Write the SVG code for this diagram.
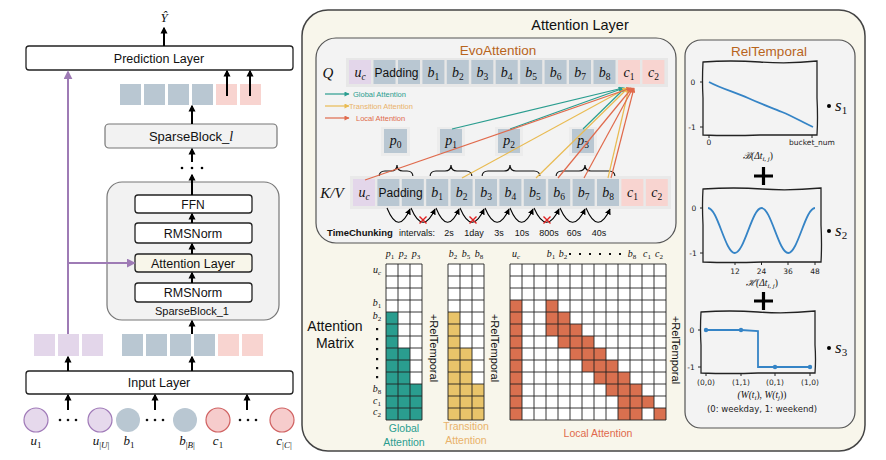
<svg xmlns="http://www.w3.org/2000/svg" width="886" height="460" viewBox="0 0 886 460">
<defs>
<style>
.s{font-family:"Liberation Sans",Arial,sans-serif;fill:#111}
.d{font-family:"DejaVu Sans",sans-serif;fill:#222}
.m{font-family:"Liberation Serif","DejaVu Serif",serif;font-style:italic;fill:#111}
.m tspan{font-style:normal}
.m tspan.it{font-style:italic}
.box{fill:#fff;stroke:#222;stroke-width:1.3}
.blk{fill:#f2f2f2;stroke:#777;stroke-width:1.2}
.pu{fill:#e3d6ea}
.bl{fill:#b9c7d2}
.pk{fill:#f8d4d0}
.arr{stroke:#000;stroke-width:2;fill:none;marker-end:url(#ah)}
.tl{stroke:#2a9d8f;stroke-width:1.2;marker-end:url(#at)}
.yl{stroke:#e9bb52;stroke-width:1.2;marker-end:url(#ay)}
.ol{stroke:#e06a4c;stroke-width:1.2;marker-end:url(#ao)}
.arc{stroke:#000;stroke-width:1.1;fill:none;marker-end:url(#aa)}
.grid{stroke:#222;stroke-width:0.9;fill:none}
.fr{fill:#f3f3f3;stroke:#222;stroke-width:1.3}
.cur{fill:none;stroke:#3584c6;stroke-width:1.8}
</style>
<marker id="ah" viewBox="0 0 10 10" refX="8" refY="5" markerWidth="7" markerHeight="8" markerUnits="userSpaceOnUse" orient="auto"><path d="M0,0L10,5L0,10z" fill="#000"/></marker>
<marker id="ap" viewBox="0 0 10 10" refX="8" refY="5" markerWidth="9" markerHeight="9" markerUnits="userSpaceOnUse" orient="auto"><path d="M0,0L10,5L0,10z" fill="#9e7bb5"/></marker>
<marker id="at" viewBox="0 0 10 10" refX="9" refY="5" markerWidth="6" markerHeight="5" markerUnits="userSpaceOnUse" orient="auto"><path d="M0,0L10,5L0,10z" fill="#2a9d8f"/></marker>
<marker id="ay" viewBox="0 0 10 10" refX="9" refY="5" markerWidth="6" markerHeight="5" markerUnits="userSpaceOnUse" orient="auto"><path d="M0,0L10,5L0,10z" fill="#e9bb52"/></marker>
<marker id="ao" viewBox="0 0 10 10" refX="9" refY="5" markerWidth="6" markerHeight="5" markerUnits="userSpaceOnUse" orient="auto"><path d="M0,0L10,5L0,10z" fill="#e06a4c"/></marker>
<marker id="aa" viewBox="0 0 10 10" refX="9" refY="5" markerWidth="6" markerHeight="6" markerUnits="userSpaceOnUse" orient="auto"><path d="M0,0L10,5L0,10z" fill="#000"/></marker>
</defs>
<rect width="886" height="460" fill="#fff"/>

<!-- LEFT COLUMN -->
<g id="yhat"><text class="m" x="164" y="22" font-size="13" text-anchor="middle">Ŷ</text></g>
<g id="prediction-layer"><rect class="box" x="26" y="46" width="267" height="24" rx="3"/><text class="s" x="159" y="62.5" font-size="12.5" text-anchor="middle">Prediction Layer</text></g>
<g id="output-embeddings">
<rect class="bl" x="120" y="84" width="21" height="21"/><rect class="bl" x="144" y="84" width="21" height="21"/><rect class="bl" x="168" y="84" width="21" height="21"/><rect class="bl" x="192" y="84" width="21" height="21"/>
<rect class="pk" x="216" y="84" width="21" height="21"/><rect class="pk" x="240" y="84" width="21" height="21"/>
</g>
<g id="sparseblock-l"><rect class="blk" x="105" y="124" width="172" height="24" rx="4"/><text class="s" x="191" y="140.5" font-size="13" text-anchor="middle">SparseBlock_<tspan font-family="Liberation Serif,serif" font-style="italic" font-size="14">l</tspan></text></g>
<g id="stack-dots"><circle cx="182" cy="168" r="1.3"/><circle cx="192" cy="168" r="1.3"/><circle cx="202" cy="168" r="1.3"/></g>
<g id="sparseblock-1">
<rect class="blk" x="107" y="182" width="172" height="138" rx="15"/>
<text class="s" x="192" y="315" font-size="11" text-anchor="middle">SparseBlock_1</text>
</g>
<g id="ffn"><rect class="box" x="135" y="195" width="117" height="18" rx="3"/><text class="s" x="193" y="208.5" font-size="12" text-anchor="middle">FFN</text></g>
<g id="rmsnorm-2"><rect class="box" x="135" y="223" width="117" height="20" rx="3"/><text class="s" x="193" y="237.5" font-size="12.5" text-anchor="middle">RMSNorm</text></g>
<g id="attention-layer-small"><rect class="box" x="135" y="254" width="117" height="18" rx="3" style="fill:#f8f6ea"/><text class="s" x="193" y="267.5" font-size="12.5" text-anchor="middle">Attention Layer</text></g>
<g id="rmsnorm-1"><rect class="box" x="135" y="283" width="117" height="19" rx="3"/><text class="s" x="193" y="297" font-size="12.5" text-anchor="middle">RMSNorm</text></g>
<g id="input-embeddings">
<rect class="pu" x="34" y="334" width="21" height="22"/><rect class="pu" x="58" y="334" width="21" height="22"/><rect class="pu" x="82" y="334" width="21" height="22"/>
<rect class="bl" x="122" y="334" width="21" height="22"/><rect class="bl" x="146" y="334" width="21" height="22"/><rect class="bl" x="170" y="334" width="21" height="22"/><rect class="bl" x="194" y="334" width="21" height="22"/>
<rect class="pk" x="218" y="334" width="21" height="22"/><rect class="pk" x="242" y="334" width="21" height="22"/>
</g>
<g id="input-layer"><rect class="box" x="26" y="371" width="267" height="23" rx="3"/><text class="s" x="159" y="387" font-size="12.5" text-anchor="middle">Input Layer</text></g>
<g id="input-tokens">
<circle cx="36" cy="420" r="12" fill="#e6d9ec" stroke="#a07ab8" stroke-width="1.2"/>
<circle cx="100" cy="420" r="12" fill="#e6d9ec" stroke="#a07ab8" stroke-width="1.2"/>
<circle cx="128" cy="420" r="12" fill="#b9c7d2"/>
<circle cx="185" cy="420" r="12" fill="#b9c7d2"/>
<circle cx="218" cy="420" r="12" fill="#f6cccc" stroke="#d06262" stroke-width="1.2"/>
<circle cx="282" cy="420" r="12" fill="#f6cccc" stroke="#d06262" stroke-width="1.2"/>
<g fill="#111"><circle cx="60" cy="420" r="1.3"/><circle cx="68" cy="420" r="1.3"/><circle cx="76" cy="420" r="1.3"/>
<circle cx="147" cy="420" r="1.3"/><circle cx="155" cy="420" r="1.3"/><circle cx="163" cy="420" r="1.3"/>
<circle cx="240" cy="420" r="1.3"/><circle cx="248" cy="420" r="1.3"/><circle cx="256" cy="420" r="1.3"/></g>
<g font-size="13" text-anchor="middle">
<text class="m" x="36" y="445">u<tspan font-size="9" dy="3">1</tspan></text>
<text class="m" x="101" y="445">u<tspan font-size="9" dy="3">|<tspan class="it">U</tspan>|</tspan></text>
<text class="m" x="129" y="445">b<tspan font-size="9" dy="3">1</tspan></text>
<text class="m" x="187" y="445">b<tspan font-size="9" dy="3">|<tspan class="it">B</tspan>|</tspan></text>
<text class="m" x="218" y="445">c<tspan font-size="9" dy="3">1</tspan></text>
<text class="m" x="284" y="445">c<tspan font-size="9" dy="3">|<tspan class="it">C</tspan>|</tspan></text>
</g>
</g>

<g id="left-connectors">
<line class="arr" x1="164" y1="46" x2="164" y2="28"/>
<line class="arr" x1="227" y1="96" x2="227" y2="71"/>
<line class="arr" x1="250" y1="96" x2="250" y2="71"/>
<line class="arr" x1="192" y1="124" x2="192" y2="106"/>
<line class="arr" x1="192" y1="162" x2="192" y2="149"/>
<line class="arr" x1="192" y1="195" x2="192" y2="175"/>
<line class="arr" x1="192" y1="223" x2="192" y2="214"/>
<line class="arr" x1="192" y1="254" x2="192" y2="244"/>
<line class="arr" x1="192" y1="283" x2="192" y2="273"/>
<line class="arr" x1="192" y1="334" x2="192" y2="321"/>
<line class="arr" x1="68" y1="371" x2="68" y2="357"/>
<line class="arr" x1="192" y1="371" x2="192" y2="357"/>
<line class="arr" x1="68" y1="410" x2="68" y2="395"/>
<line class="arr" x1="155" y1="410" x2="155" y2="395"/>
<line class="arr" x1="247" y1="410" x2="247" y2="395"/>
<line x1="68" y1="334" x2="68" y2="72" stroke="#9e7bb5" stroke-width="2" marker-end="url(#ap)"/>
<line x1="68" y1="263" x2="134" y2="263" stroke="#9e7bb5" stroke-width="2" marker-end="url(#ap)"/>
</g>

<!-- ATTENTION LAYER -->
<g id="attention-layer">
<rect x="302" y="10" width="563" height="441" rx="26" fill="#f8f6eb" stroke="#444" stroke-width="1.5"/>
<text class="s" x="580" y="30" font-size="14.5" text-anchor="middle">Attention Layer</text>
</g>

<g id="evoattention">
<rect x="316" y="38" width="360" height="205" rx="20" fill="#f3f3f3" stroke="#555" stroke-width="1.2"/>
<text class="s" x="498" y="55" font-size="13.5" text-anchor="middle" style="fill:#b8641c">EvoAttention</text>
</g>

<g id="q-row">
<text class="m" x="328" y="78" font-size="15" text-anchor="middle">Q</text>
<rect x="346" y="58" width="322" height="29" fill="#e7e7e7"/>
<rect class="pu" x="349" y="60" width="22" height="24"/>
<rect class="bl" x="373.5" y="60" width="22" height="24"/><rect class="bl" x="398" y="60" width="22" height="24"/>
<rect class="bl" x="422.4" y="60" width="22" height="24"/><rect class="bl" x="446.8" y="60" width="22" height="24"/>
<rect class="bl" x="471.3" y="60" width="22" height="24"/><rect class="bl" x="495.7" y="60" width="22" height="24"/>
<rect class="bl" x="520.2" y="60" width="22" height="24"/><rect class="bl" x="544.6" y="60" width="22" height="24"/>
<rect class="bl" x="569" y="60" width="22" height="24"/><rect class="bl" x="593.5" y="60" width="22" height="24"/>
<rect class="pk" x="618" y="60" width="22" height="24"/><rect class="pk" x="642.4" y="60" width="22" height="24"/>
<text class="s" x="396.5" y="77" font-size="12" text-anchor="middle">Padding</text>
<g font-size="14" text-anchor="middle">
<text class="m" x="360" y="77">u<tspan class="it" font-size="9.5" dy="3">c</tspan></text>
<text class="m" x="433.4" y="77">b<tspan font-size="9.5" dy="3">1</tspan></text>
<text class="m" x="457.8" y="77">b<tspan font-size="9.5" dy="3">2</tspan></text>
<text class="m" x="482.3" y="77">b<tspan font-size="9.5" dy="3">3</tspan></text>
<text class="m" x="506.7" y="77">b<tspan font-size="9.5" dy="3">4</tspan></text>
<text class="m" x="531.2" y="77">b<tspan font-size="9.5" dy="3">5</tspan></text>
<text class="m" x="555.6" y="77">b<tspan font-size="9.5" dy="3">6</tspan></text>
<text class="m" x="580" y="77">b<tspan font-size="9.5" dy="3">7</tspan></text>
<text class="m" x="604.5" y="77">b<tspan font-size="9.5" dy="3">8</tspan></text>
<text class="m" x="629" y="77">c<tspan font-size="9.5" dy="3">1</tspan></text>
<text class="m" x="653.4" y="77">c<tspan font-size="9.5" dy="3">2</tspan></text>
</g>
</g>

<g id="legend">
<line class="tl" x1="325" y1="94" x2="349" y2="94"/>
<line class="yl" x1="325" y1="106" x2="349" y2="106"/>
<line class="ol" x1="325" y1="118" x2="349" y2="118"/>
<text class="s" x="353" y="96.5" font-size="7.5" style="fill:#2a9d8f">Global Attention</text>
<text class="s" x="349" y="108.5" font-size="7.5" style="fill:#e9b26a">Transition Attention</text>
<text class="s" x="356" y="120.5" font-size="7.5" style="fill:#e06a4c">Local Attention</text>
</g>

<g id="p-tokens">
<rect x="381" y="127" width="29" height="29" fill="#ececec"/><rect x="437" y="127" width="28" height="29" fill="#ececec"/><rect x="495" y="127" width="28" height="29" fill="#ececec"/><rect x="569" y="127" width="28" height="29" fill="#ececec"/>
<rect class="bl" x="384" y="129" width="23" height="24"/>
<rect class="bl" x="440" y="129" width="22" height="24"/>
<rect class="bl" x="498" y="129" width="22" height="24"/>
<rect class="bl" x="572" y="129" width="22" height="24"/>
<g font-size="14" text-anchor="middle">
<text class="m" x="395.5" y="145">p<tspan font-size="9.5" dy="3">0</tspan></text>
<text class="m" x="451" y="145">p<tspan font-size="9.5" dy="3">1</tspan></text>
<text class="m" x="509" y="145">p<tspan font-size="9.5" dy="3">2</tspan></text>
<text class="m" x="583" y="145">p<tspan font-size="9.5" dy="3">3</tspan></text>
</g>
</g>

<g id="braces" fill="none" stroke="#111" stroke-width="1.2">
<path d="M379,177Q379,171 385,171L391,171Q397,171 397,165Q397,171 403,171L407,171Q413,171 413,177"/>
<path d="M430,177Q430,171 436,171L445,171Q451,171 451,165Q451,171 457,171L466,171Q472,171 472,177"/>
<path d="M482,177Q482,171 488,171L504,171Q510,171 510,165Q510,171 516,171L534,171Q540,171 540,177"/>
<path d="M556,177Q556,171 562,171L579,171Q585,171 585,165Q585,171 591,171L609,171Q615,171 615,177"/>
</g>

<g id="kv-row">
<text class="m" x="332" y="198" font-size="15" text-anchor="middle">K/V</text>
<rect x="350" y="176" width="321" height="33" fill="#e9e9e9"/>
<rect class="pu" x="353" y="179" width="22" height="27"/>
<rect class="bl" x="377.4" y="179" width="22" height="27"/><rect class="bl" x="401.8" y="179" width="22" height="27"/>
<rect class="bl" x="426.2" y="179" width="22" height="27"/><rect class="bl" x="450.6" y="179" width="22" height="27"/>
<rect class="bl" x="475" y="179" width="22" height="27"/><rect class="bl" x="499.4" y="179" width="22" height="27"/>
<rect class="bl" x="523.8" y="179" width="22" height="27"/><rect class="bl" x="548.2" y="179" width="22" height="27"/>
<rect class="bl" x="572.6" y="179" width="22" height="27"/><rect class="bl" x="597" y="179" width="22" height="27"/>
<rect class="pk" x="621.4" y="179" width="22" height="27"/><rect class="pk" x="645.8" y="179" width="22" height="27"/>
<text class="s" x="400.6" y="197" font-size="12" text-anchor="middle">Padding</text>
<g font-size="14" text-anchor="middle">
<text class="m" x="364" y="197">u<tspan class="it" font-size="9.5" dy="3">c</tspan></text>
<text class="m" x="437.2" y="197">b<tspan font-size="9.5" dy="3">1</tspan></text>
<text class="m" x="461.6" y="197">b<tspan font-size="9.5" dy="3">2</tspan></text>
<text class="m" x="486" y="197">b<tspan font-size="9.5" dy="3">3</tspan></text>
<text class="m" x="510.4" y="197">b<tspan font-size="9.5" dy="3">4</tspan></text>
<text class="m" x="534.8" y="197">b<tspan font-size="9.5" dy="3">5</tspan></text>
<text class="m" x="559.2" y="197">b<tspan font-size="9.5" dy="3">6</tspan></text>
<text class="m" x="583.6" y="197">b<tspan font-size="9.5" dy="3">7</tspan></text>
<text class="m" x="608" y="197">b<tspan font-size="9.5" dy="3">8</tspan></text>
<text class="m" x="632.4" y="197">c<tspan font-size="9.5" dy="3">1</tspan></text>
<text class="m" x="656.8" y="197">c<tspan font-size="9.5" dy="3">2</tspan></text>
</g>
</g>

<g id="attention-connectors" fill="none">
<line class="tl" x1="452" y1="129" x2="623" y2="88"/>
<line class="tl" x1="510" y1="129" x2="624" y2="88"/>
<line class="tl" x1="583" y1="129" x2="625" y2="88"/>
<line class="yl" x1="462" y1="178" x2="627" y2="88"/>
<line class="yl" x1="536" y1="178" x2="628" y2="88"/>
<line class="yl" x1="608" y1="178" x2="629" y2="88"/>
<line class="ol" x1="365" y1="180" x2="631" y2="88"/>
<line class="ol" x1="558" y1="178" x2="632" y2="88"/>
<line class="ol" x1="584" y1="178" x2="633" y2="88"/>
<line class="ol" x1="611" y1="178" x2="634" y2="88"/>
</g>

<g id="timechunking">
<g class="arc">
<path d="M387,208Q398.5,236 410,209"/>
<path d="M411,208Q423,236 435,209"/>
<path d="M436,208Q447.5,236 459,209"/>
<path d="M460,208Q472,236 484,209"/>
<path d="M485,208Q497,236 509,209"/>
<path d="M510,208Q521.5,236 533,209"/>
<path d="M534,208Q546.5,236 559,209"/>
<path d="M560,208Q572.5,236 585,209"/>
<path d="M586,208Q598,236 610,209"/>
</g>
<g stroke="#e02020" stroke-width="1.4">
<path d="M419.5,216.5l7,7m0,-7l-7,7"/>
<path d="M469.5,216.5l7,7m0,-7l-7,7"/>
<path d="M543.5,216.5l7,7m0,-7l-7,7"/>
</g>
<text class="s" x="327" y="236" font-size="9.5" font-weight="bold">TimeChunking</text>
<g class="s" font-size="9" text-anchor="middle">
<text x="399" y="236" text-anchor="start">intervals:</text>
<text x="449" y="236">2s</text>
<text x="474" y="236">1day</text>
<text x="499" y="236">3s</text>
<text x="522" y="236">10s</text>
<text x="549" y="236">800s</text>
<text x="574" y="236">60s</text>
<text x="599" y="236">40s</text>
</g>
</g>

<g id="attention-matrix-label"><text class="s" x="335" y="331" font-size="14" text-anchor="middle">Attention</text><text class="s" x="335" y="348" font-size="14" text-anchor="middle">Matrix</text></g>

<g id="global-matrix">
<rect x="386" y="264" width="36" height="156" fill="#fff"/>
<g fill="#2a9d8f"><rect x="386" y="312" width="12" height="108"/><rect x="398" y="348" width="12" height="72"/><rect x="410" y="384" width="12" height="36"/></g>
<path class="grid" d="M386,264h36v156h-36z M398,264v156 M410,264v156 M386,276h36 M386,288h36 M386,300h36 M386,312h36 M386,324h36 M386,336h36 M386,348h36 M386,360h36 M386,372h36 M386,384h36 M386,396h36 M386,408h36"/>
<g font-size="10" text-anchor="middle">
<text class="m" x="390" y="257">p<tspan font-size="7" dy="2">1</tspan></text>
<text class="m" x="403" y="257">p<tspan font-size="7" dy="2">2</tspan></text>
<text class="m" x="416" y="257">p<tspan font-size="7" dy="2">3</tspan></text>
<text class="m" x="377" y="273">u<tspan class="it" font-size="7" dy="2">c</tspan></text>
<text class="m" x="377" y="306">b<tspan font-size="7" dy="2">1</tspan></text>
<text class="m" x="377" y="319">b<tspan font-size="7" dy="2">2</tspan></text>
<text class="m" x="377" y="392">b<tspan font-size="7" dy="2">8</tspan></text>
<text class="m" x="377" y="404">c<tspan font-size="7" dy="2">1</tspan></text>
<text class="m" x="377" y="415">c<tspan font-size="7" dy="2">2</tspan></text>
</g>
<g fill="#111"><rect x="376" y="328" width="2.2" height="2.2"/><rect x="376" y="338" width="2.2" height="2.2"/><rect x="376" y="348" width="2.2" height="2.2"/><rect x="376" y="358" width="2.2" height="2.2"/><rect x="376" y="367" width="2.2" height="2.2"/><rect x="376" y="376" width="2.2" height="2.2"/></g>
<text class="s" transform="translate(430,348) rotate(90)" font-size="11" text-anchor="middle">+RelTemporal</text>
<text class="s" x="404" y="432" font-size="10.5" text-anchor="middle" style="fill:#2a9d8f">Global</text>
<text class="s" x="404" y="446" font-size="10.5" text-anchor="middle" style="fill:#2a9d8f">Attention</text>
</g>

<g id="transition-matrix">
<rect x="448" y="264" width="36" height="156" fill="#fff"/>
<g fill="#e9c46a"><rect x="448" y="312" width="12" height="108"/><rect x="460" y="348" width="12" height="72"/><rect x="472" y="384" width="12" height="36"/></g>
<path class="grid" d="M448,264h36v156h-36z M460,264v156 M472,264v156 M448,276h36 M448,288h36 M448,300h36 M448,312h36 M448,324h36 M448,336h36 M448,348h36 M448,360h36 M448,372h36 M448,384h36 M448,396h36 M448,408h36"/>
<g font-size="10" text-anchor="middle">
<text class="m" x="453" y="257">b<tspan font-size="7" dy="2">2</tspan></text>
<text class="m" x="466" y="257">b<tspan font-size="7" dy="2">5</tspan></text>
<text class="m" x="479" y="257">b<tspan font-size="7" dy="2">8</tspan></text>
</g>
<text class="s" transform="translate(491,348) rotate(90)" font-size="11" text-anchor="middle">+RelTemporal</text>
<text class="s" x="466" y="430" font-size="10.5" text-anchor="middle" style="fill:#e9b26a">Transition</text>
<text class="s" x="466" y="444" font-size="10.5" text-anchor="middle" style="fill:#e9b26a">Attention</text>
</g>

<g id="local-matrix">
<rect x="510" y="264" width="156" height="156" fill="#fff"/>
<g fill="#d9704f">
<rect x="510" y="300" width="12" height="120"/>
<rect x="546" y="300" width="12" height="36"/>
<rect x="558" y="312" width="12" height="36"/>
<rect x="570" y="324" width="12" height="36"/>
<rect x="582" y="336" width="12" height="36"/>
<rect x="594" y="348" width="12" height="36"/>
<rect x="606" y="360" width="12" height="36"/>
<rect x="618" y="372" width="12" height="48"/>
<rect x="630" y="384" width="12" height="36"/>
<rect x="642" y="396" width="12" height="12"/>
<rect x="654" y="408" width="12" height="12"/>
</g>
<path class="grid" d="M510,264h156v156h-156z M522,264v156 M534,264v156 M546,264v156 M558,264v156 M570,264v156 M582,264v156 M594,264v156 M606,264v156 M618,264v156 M630,264v156 M642,264v156 M654,264v156 M510,276h156 M510,288h156 M510,300h156 M510,312h156 M510,324h156 M510,336h156 M510,348h156 M510,360h156 M510,372h156 M510,384h156 M510,396h156 M510,408h156"/>
<g font-size="10" text-anchor="middle">
<text class="m" x="516" y="257">u<tspan class="it" font-size="7" dy="2">c</tspan></text>
<text class="m" x="551" y="257">b<tspan font-size="7" dy="2">1</tspan></text>
<text class="m" x="563" y="257">b<tspan font-size="7" dy="2">2</tspan></text>
<text class="m" x="632" y="257">b<tspan font-size="7" dy="2">8</tspan></text>
<text class="m" x="647" y="257">c<tspan font-size="7" dy="2">1</tspan></text>
<text class="m" x="659" y="257">c<tspan font-size="7" dy="2">2</tspan></text>
</g>
<g fill="#111"><rect x="569" y="253" width="2" height="2"/><rect x="579" y="253" width="2" height="2"/><rect x="589" y="253" width="2" height="2"/><rect x="599" y="253" width="2" height="2"/><rect x="609" y="253" width="2" height="2"/><rect x="619" y="253" width="2" height="2"/></g>
<text class="s" transform="translate(672,350) rotate(90)" font-size="11" text-anchor="middle">+RelTemporal</text>
<text class="s" x="598" y="437" font-size="10.5" text-anchor="middle" style="fill:#e06a4c">Local Attention</text>
</g>

<g id="reltemporal">
<rect x="685" y="40" width="170" height="388" rx="16" fill="#f3f3f3" stroke="#555" stroke-width="1.2"/>
<text class="s" x="769" y="56" font-size="13.5" text-anchor="middle" style="fill:#b8641c">RelTemporal</text>
</g>

<g id="plot-bucket">
<path class="fr" d="M703,62Q730,60 760,62T817,61L817,98Q818,118 817,135L760,135Q730,136 703,135L703,98Q702,80 703,62z"/>
<path class="cur" d="M709,82C722,89 735,92 748,98S770,107 782,112S802,122 813,127"/>
<path d="M700,82h3M700,127h3M709,135v3M812,135v3" stroke="#222" stroke-width="1"/>
<g class="d" font-size="7.5"><text x="693" y="85" text-anchor="middle">0</text><text x="692" y="130" text-anchor="middle">-1</text><text x="709" y="145" text-anchor="middle">0</text><text x="812" y="145" text-anchor="middle">bucket_num</text></g>
<text class="m" x="758" y="159" font-size="9.5" text-anchor="middle">ℬ(Δ<tspan class="it">t</tspan><tspan class="it" font-size="7" dy="2">i, j</tspan><tspan dy="-2">)</tspan></text>
<circle cx="829" cy="106" r="2"/>
<text class="m" x="835" y="111" font-size="17">s<tspan font-size="11" dy="3">1</tspan></text>
</g>
<g id="plus-1"><path d="M754,176h19M763.5,167v18" stroke="#000" stroke-width="3.2"/></g>

<g id="plot-hour">
<path class="fr" d="M703,189Q735,187 762,189T821,188L821,225Q822,245 821,262L762,262Q730,263 703,262L703,225Q702,205 703,189z"/>
<path class="cur" d="M708,208C717.6,208 725.2,253 734.8,253C744.4,253 752,208 761.5,208C771.1,208 778.7,253 788.2,253C797.8,253 805.4,208 815,208"/>
<path d="M700,208h3M700,253h3M735,262v3M761.5,262v3M788,262v3M815,262v3" stroke="#222" stroke-width="1"/>
<g class="d" font-size="7.5"><text x="694" y="211" text-anchor="middle">0</text><text x="693" y="256" text-anchor="middle">-1</text>
<text x="735" y="274" text-anchor="middle">12</text><text x="761.5" y="274" text-anchor="middle">24</text><text x="788" y="274" text-anchor="middle">36</text><text x="815" y="274" text-anchor="middle">48</text></g>
<text class="m" x="762" y="286" font-size="9.5" text-anchor="middle">ℋ(Δ<tspan class="it">t</tspan><tspan class="it" font-size="7" dy="2">i, j</tspan><tspan dy="-2">)</tspan></text>
<circle cx="829" cy="231" r="2"/>
<text class="m" x="835" y="236" font-size="17">s<tspan font-size="11" dy="3">2</tspan></text>
</g>
<g id="plus-2"><path d="M754,301h19M763.5,292v18" stroke="#000" stroke-width="3.2"/></g>

<g id="plot-week">
<path class="fr" d="M701,312Q730,310 758,312T815,311L815,345Q816,360 815,373L758,373Q730,374 701,373L701,345Q700,328 701,312z"/>
<path class="cur" d="M706,330L741,330L758,331L758,367L775,367L810,367"/>
<g fill="#3584c6"><circle cx="706" cy="330" r="2.2"/><circle cx="741" cy="330" r="2.2"/><circle cx="775" cy="367" r="2.2"/><circle cx="810" cy="367" r="2.2"/></g>
<path d="M698,330h3M698,367h3M706,373v3M741,373v3M775,373v3M810,373v3" stroke="#222" stroke-width="1"/>
<g class="d" font-size="7.5" text-anchor="middle"><text x="692" y="333">0</text><text x="691" y="370">-1</text>
<text x="706" y="385">(0,0)</text><text x="741" y="385">(1,1)</text><text x="775" y="385">(0,1)</text><text x="810" y="385">(1,0)</text></g>
<text class="m" x="762" y="398" font-size="9.5" text-anchor="middle">(<tspan class="it">W</tspan>(<tspan class="it">t</tspan><tspan class="it" font-size="7" dy="2">i</tspan><tspan dy="-2">), </tspan><tspan class="it">W</tspan>(<tspan class="it">t</tspan><tspan class="it" font-size="7" dy="2">j</tspan><tspan dy="-2">))</tspan></text>
<text class="d" x="762" y="412" font-size="8.5" text-anchor="middle">(0: weekday, 1: weekend)</text>
<circle cx="829" cy="348" r="2"/>
<text class="m" x="835" y="353" font-size="17">s<tspan font-size="11" dy="3">3</tspan></text>
</g>
</svg>
